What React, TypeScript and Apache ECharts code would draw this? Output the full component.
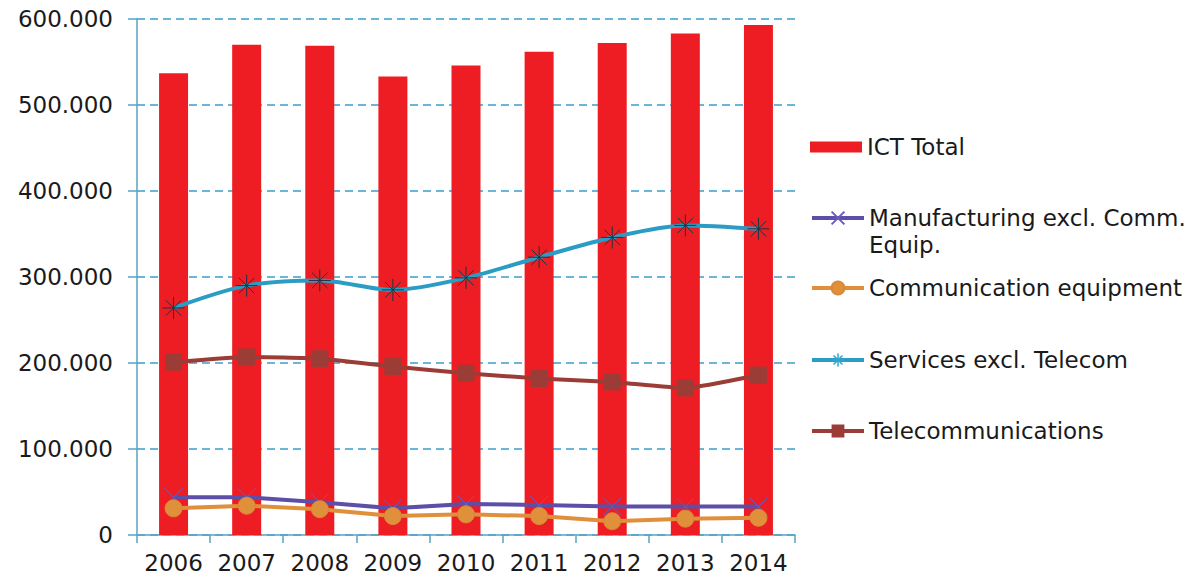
import React, { useEffect, useRef } from "react";
import * as echarts from "echarts";

const years = ["2006", "2007", "2008", "2009", "2010", "2011", "2012", "2013", "2014"];
const ictTotal = [537000, 570000, 569000, 533000, 546000, 562000, 572000, 583000, 593000];
const manufacturing = [44000, 44000, 38000, 31000, 36000, 35000, 33000, 33000, 33000];
const commEquipment = [31000, 34000, 30000, 22000, 24000, 22000, 16000, 19000, 20000];
const services = [264000, 290000, 296000, 285000, 299000, 323000, 346000, 360000, 356000];
const telecom = [201000, 207000, 205000, 196000, 188000, 182000, 178000, 171000, 186000];

const FONT = "DejaVu Sans";

function fmt(v: number): string {
  if (v === 0) return "0";
  const s = String(Math.round(v));
  return s.replace(/\B(?=(\d{3})+(?!\d))/g, ".");
}

export default function App() {
  const ref = useRef<HTMLDivElement>(null);
  useEffect(() => {
    if (!ref.current) return;
    const chart = echarts.init(ref.current, undefined, { renderer: "svg" });
    const legendText = { fontFamily: FONT, fontSize: 23, color: "#1a1a1a", lineHeight: 27 };
    const mkLegend = (name: string, top: number, extra: any = {}) => ({
      show: true,
      orient: "vertical",
      left: 810,
      top,
      padding: 0,
      itemWidth: 52,
      itemHeight: 16,
      data: [name],
      textStyle: legendText,
      selectedMode: false,
      lineStyle: { width: 4 },
      ...extra,
    });
    chart.setOption({
      animation: false,
      backgroundColor: "#ffffff",
      grid: { left: 137, right: 408, top: 19, bottom: 48, containLabel: false },
      legend: [
        mkLegend("ICT Total", 133.5, { itemHeight: 11, icon: "rect" }),
        mkLegend("Manufacturing excl. Comm. Equip.", 177.5, {
          formatter: () => "\nManufacturing excl. Comm.\nEquip.",
        }),
        mkLegend("Communication equipment", 274.5),
        mkLegend("Services excl. Telecom", 346.5, {
          itemStyle: { borderColor: "#2fa6d0", borderWidth: 1.5 },
        }),
        mkLegend("Telecommunications", 417.5),
      ],
      xAxis: {
        type: "category",
        data: years,
        boundaryGap: true,
        axisLine: { show: true, lineStyle: { color: "#5aa3c4", width: 1.5 } },
        axisTick: { show: true, length: 8, lineStyle: { color: "#5aa3c4", width: 1.5 } },
        axisLabel: { interval: 0, fontFamily: FONT, fontSize: 23, color: "#1a1a1a", margin: 16 },
        splitLine: { show: false },
      },
      yAxis: {
        type: "value",
        min: 0,
        max: 600000,
        interval: 100000,
        axisLine: { show: true, lineStyle: { color: "#5aa3c4", width: 1.5 } },
        axisTick: { show: true, length: 9, lineStyle: { color: "#5aa3c4", width: 1.5 } },
        axisLabel: {
          fontFamily: FONT,
          fontSize: 23,
          color: "#1a1a1a",
          margin: 24,
          formatter: (v: number) => fmt(v),
        },
        splitLine: { show: true, lineStyle: { color: "#3a9fd0", width: 1.5, type: [8, 5] } },
      },
      series: [
        {
          name: "ICT Total",
          type: "bar",
          data: ictTotal,
          barWidth: 29,
          itemStyle: { color: "#ee1d23" },
        },
        {
          name: "Manufacturing excl. Comm. Equip.",
          type: "line",
          data: manufacturing,
          symbol: "path://M0,0L10,10M10,0L0,10",
          symbolSize: 18,
          lineStyle: { color: "#5d4ea8", width: 4 },
          itemStyle: { color: "#5d4ea8", borderColor: "#6a5cc0", borderWidth: 1 },
          z: 3,
        },
        {
          name: "Communication equipment",
          type: "line",
          data: commEquipment,
          symbol: "circle",
          symbolSize: 17,
          lineStyle: { color: "#e0903a", width: 4 },
          itemStyle: { color: "#e0903a", borderColor: "#d88a38", borderWidth: 1 },
          z: 3,
        },
        {
          name: "Services excl. Telecom",
          type: "line",
          data: services,
          smooth: 0.3,
          symbol: "path://M5,0L5,10M0,5L10,5M1.5,1.5L8.5,8.5M8.5,1.5L1.5,8.5",
          symbolSize: 22,
          lineStyle: { color: "#2b9cc3", width: 4 },
          itemStyle: { color: "#2b9cc3", borderColor: "#1e3442", borderWidth: 1 },
          z: 3,
        },
        {
          name: "Telecommunications",
          type: "line",
          data: telecom,
          smooth: 0.15,
          symbol: "rect",
          symbolSize: 17,
          lineStyle: { color: "#9b3d36", width: 4 },
          itemStyle: { color: "#9b3d36" },
          z: 3,
        },
      ],
    });
    return () => chart.dispose();
  }, []);
  return <div ref={ref} style={{ width: 1203, height: 583, position: "absolute", left: 0, top: 0 }} />;
}
